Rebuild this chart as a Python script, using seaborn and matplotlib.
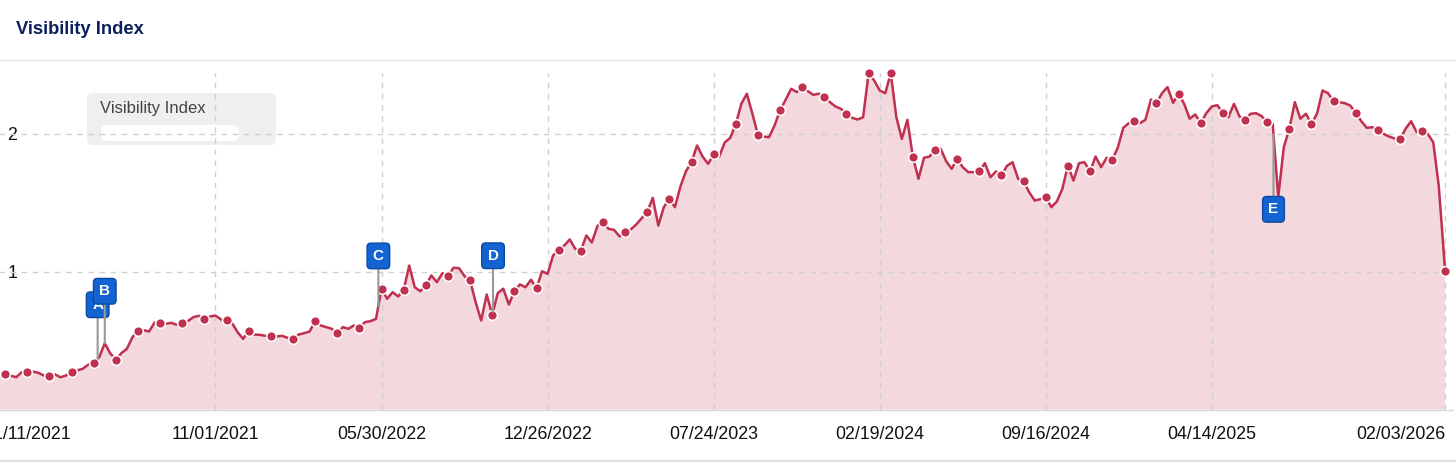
import numpy as np
import pandas as pd
import matplotlib
matplotlib.use("Agg")
import matplotlib.pyplot as plt
import matplotlib.dates as mdates
import matplotlib.transforms as mtransforms
from matplotlib.patches import FancyBboxPatch
from matplotlib.lines import Line2D
import seaborn as sns

# weekly visibility index, first week 01/11/2021, last point 02/03/2026
start_date = "2021-01-11"
last_date = "2026-02-03"
visibility = [
    0.27, 0.26, 0.27, 0.26,
    0.254, 0.245, 0.234, 0.27, 0.275, 0.275, 0.266, 0.246, 0.246, 0.254,
    0.234, 0.246, 0.275, 0.283, 0.295, 0.324, 0.34, 0.379, 0.48, 0.406,
    0.362, 0.408, 0.44, 0.524, 0.572, 0.575, 0.565, 0.63, 0.625, 0.621,
    0.628, 0.614, 0.628, 0.64, 0.669, 0.679, 0.657, 0.674, 0.681, 0.652,
    0.645, 0.625, 0.56, 0.512, 0.57, 0.543, 0.541, 0.534, 0.534, 0.529,
    0.534, 0.52, 0.51, 0.543, 0.553, 0.565, 0.64, 0.609, 0.597, 0.585,
    0.553, 0.597, 0.585, 0.609, 0.592, 0.633, 0.64, 0.657, 0.875, 0.802,
    0.85, 0.819, 0.867, 1.043, 0.886, 0.857, 0.899, 0.971, 0.923, 0.988,
    0.964, 1.027, 1.024, 0.966, 0.935, 0.778, 0.645, 0.833, 0.686, 0.843,
    0.875, 0.761, 0.857, 0.906, 0.886, 0.94, 0.879, 1.002, 0.983, 1.116,
    1.159, 1.188, 1.232, 1.164, 1.152, 1.261, 1.21, 1.33, 1.362, 1.309,
    1.302, 1.254, 1.285, 1.304, 1.34, 1.386, 1.43, 1.534, 1.333, 1.466,
    1.527, 1.466, 1.616, 1.727, 1.792, 1.913, 1.833, 1.78, 1.848, 1.833,
    1.935, 1.969, 2.068, 2.215, 2.288, 2.143, 1.99, 1.978, 1.973, 2.058,
    2.167, 2.244, 2.324, 2.30, 2.336, 2.307, 2.28, 2.288, 2.268, 2.227,
    2.196, 2.179, 2.143, 2.114, 2.101, 2.118, 2.437, 2.384, 2.312, 2.292,
    2.437, 2.12, 1.961, 2.099, 1.828, 1.672, 1.824, 1.833, 1.882, 1.89,
    1.8, 1.744, 1.817, 1.756, 1.72, 1.72, 1.725, 1.785, 1.683, 1.725,
    1.696, 1.766, 1.792, 1.672, 1.654, 1.575, 1.514, 1.524, 1.54, 1.466,
    1.507, 1.599, 1.768, 1.659, 1.785, 1.792, 1.725, 1.833, 1.756, 1.824,
    1.81, 1.896, 2.041, 2.075, 2.094, 2.075, 2.099, 2.246, 2.22, 2.292,
    2.336, 2.222, 2.288, 2.215, 2.107, 2.138, 2.075, 2.147, 2.196, 2.205,
    2.147, 2.118, 2.215, 2.123, 2.101, 2.143, 2.147, 2.126, 2.082, 2.07,
    1.538, 1.9, 2.034, 2.227, 2.107, 2.143, 2.07, 2.143, 2.312, 2.292,
    2.234, 2.227, 2.22, 2.203, 2.15, 2.089, 2.041, 2.046, 2.024, 1.998,
    1.978, 1.964, 1.959, 2.034, 2.089, 2.01, 2.017, 1.998, 1.937, 1.62,
    1.007,
]
tick_dates = ["2021-11-01", "2022-05-30", "2022-12-26", "2023-07-24",
              "2024-02-19", "2024-09-16", "2025-04-14"]
y_ticks = [1, 2]

# event flags
flag_letters = ["A", "B", "C", "D", "E"]
flag_dates = ["2021-06-05", "2021-06-14", "2022-05-26", "2022-10-18", "2025-07-01"]
flag_offsets = [(0, 54), (0, 52), (0, 50), (0, 56), (0, -75)]

dates = pd.date_range(start_date, periods=len(visibility) - 1, freq="7D")
dates = dates.append(pd.DatetimeIndex([last_date]))
df = pd.DataFrame({"date": dates, "visibility": visibility})

line_c = "#c0304f"
fill_c = "#f3d8dd"
grid_c = "#d0d0d0"
flag_c = "#1463d2"

sns.set_theme(style="white")
plt.rcParams["font.family"] = ["Liberation Sans", "DejaVu Sans"]

W, H = 1456, 462
fig = plt.figure(figsize=(W / 100, H / 100), dpi=100)
# pixel coordinates measured from the top-left corner
pxT = mtransforms.Affine2D().scale(1 / W, -1 / H).translate(0, 1) + fig.transFigure

ymax = max(visibility)
ax = fig.add_axes([-17 / W, (H - 409.5) / H, 1470 / W, 138 * ymax / H])

ax.fill_between(df["date"], df["visibility"], color=fill_c, lw=0, zorder=1)
for d in tick_dates + [last_date]:
    ax.axvline(pd.Timestamp(d), color=grid_c, lw=1, ls=(0, (4, 4)), zorder=2)
for v in y_ticks:
    ax.axhline(v, color=grid_c, lw=1, ls=(0, (4, 4)), zorder=2)

sns.lineplot(data=df, x="date", y="visibility", ax=ax, color=line_c, lw=1.8,
             marker="o", markevery=4, markersize=7, markeredgecolor="white",
             markeredgewidth=1.1, zorder=3, clip_on=False)

ax.set_xlim(dates[0], dates[-1] + pd.Timedelta(days=10))
ax.set_ylim(0, ymax)

xt = [dates[0]] + [pd.Timestamp(d) for d in tick_dates] + [dates[-1]]
ax.set_xticks(xt)
ax.set_xticklabels([d.strftime("%m/%d/%Y") for d in xt])
labels = ax.get_xticklabels()
labels[0].set_ha("left")
labels[-1].set_ha("right")
ax.tick_params(axis="x", length=0, pad=12, labelsize=12.8, labelcolor="#111111")

ax.set_yticks(y_ticks)
ax.set_yticklabels([str(v) for v in y_ticks])
ax.tick_params(axis="y", length=0, pad=-24.5, labelsize=12.8, labelcolor="#111111")
ax.set_xlabel("")
ax.set_ylabel("")
for s in ["top", "left", "right"]:
    ax.spines[s].set_visible(False)
ax.spines["bottom"].set_color("#d8d8d8")
ax.spines["bottom"].set_linewidth(1)

# flags
xnum = mdates.date2num(dates)
for letter, d, off in zip(flag_letters, flag_dates, flag_offsets):
    fx = mdates.date2num(pd.Timestamp(d))
    fy = np.interp(fx, xnum, visibility)
    ax.annotate(letter, xy=(fx, fy), xytext=off, textcoords="offset pixels",
                ha="center", va="center", fontsize=11, fontweight="bold",
                color="white", zorder=5, annotation_clip=False,
                bbox=dict(boxstyle="round,pad=0.38,rounding_size=0.25",
                          fc=flag_c, ec="#0b4aa0", lw=1),
                arrowprops=dict(arrowstyle="-", color="#999999", lw=1.5,
                                shrinkA=0, shrinkB=0))

# tooltip-like legend box
ax.add_patch(FancyBboxPatch((87, 93), 189, 52, boxstyle="round,pad=0,rounding_size=6",
                            transform=pxT, fc="#efefef", ec="none", zorder=1.5,
                            clip_on=False))
ax.add_patch(FancyBboxPatch((101, 125), 138, 16, boxstyle="round,pad=0,rounding_size=6",
                            transform=pxT, fc="white", ec="none", zorder=1.6,
                            clip_on=False))
ax.text(99.5, 108, "Visibility Index", transform=pxT, fontsize=12, color="#444444",
        va="center", ha="left", zorder=1.7)

# header
fig.text(16 / W, 1 - 29 / H, "Visibility Index", fontsize=13.2, fontweight="bold",
         color="#0d1f5c", va="center", ha="left")
fig.add_artist(Line2D([0, 1], [1 - 59.5 / H] * 2, color="#e4e4e4", lw=1))
fig.add_artist(Line2D([0, 1], [1 - 460.5 / H] * 2, color="#e0e0e0", lw=1.5))

fig.savefig("out.png", dpi=100)
